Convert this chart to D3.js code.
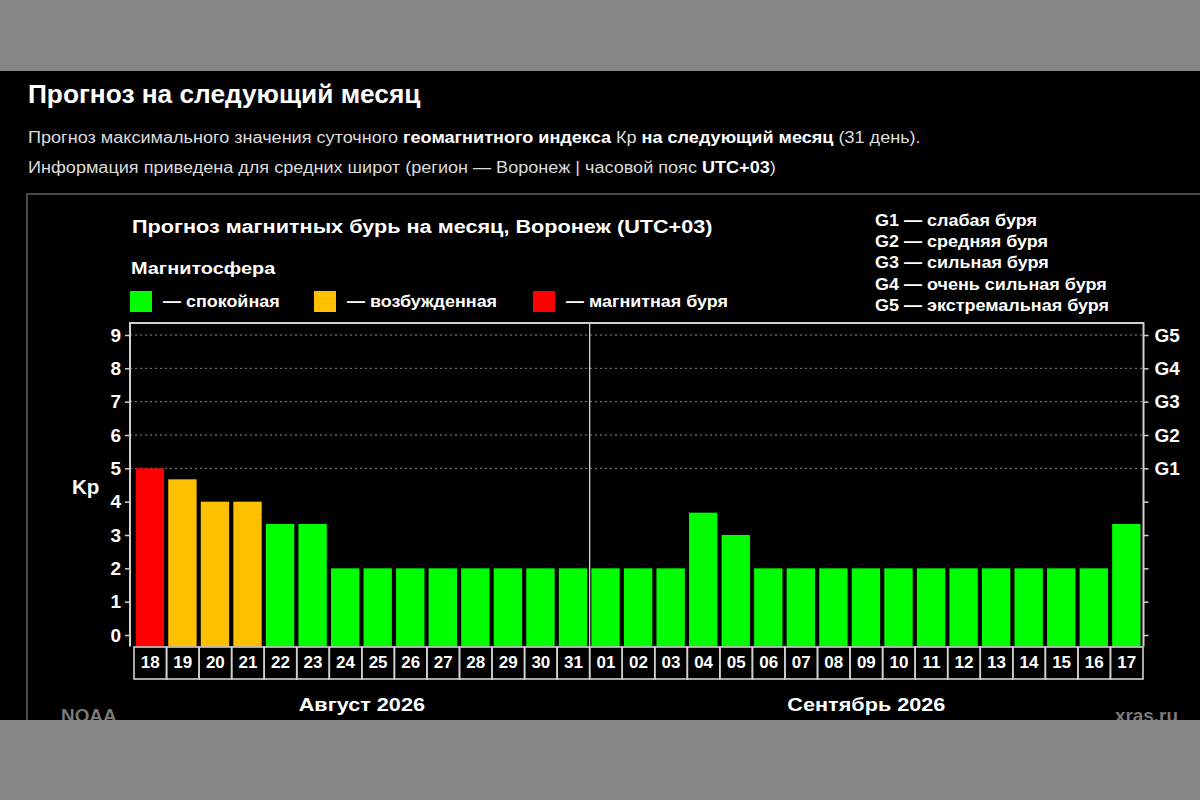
<!DOCTYPE html>
<html><head><meta charset="utf-8">
<script src="https://cdn.jsdelivr.net/npm/d3@7"></script>
<style>
html,body{margin:0;padding:0;background:#858585;}
svg{display:block;font-family:"Liberation Sans",Arial,sans-serif;}
</style></head>
<body>
<svg id="c" width="1200" height="800"></svg>
<script>
const augDays = ["18","19","20","21","22","23","24","25","26","27","28","29","30","31"];
const sepDays = ["01","02","03","04","05","06","07","08","09","10","11","12","13","14","15","16","17"];
const augKp = [5, 4.67, 4, 4, 3.33, 3.33, 2, 2, 2, 2, 2, 2, 2, 2];
const sepKp = [2, 2, 2, 3.67, 3, 2, 2, 2, 2, 2, 2, 2, 2, 2, 2, 2, 3.33];
const kpTicks = [0,1,2,3,4,5,6,7,8,9];
const gLabels = ["G1","G2","G3","G4","G5"];
const gKp = [5,6,7,8,9];
const gLegend = ["G1 — слабая буря","G2 — средняя буря","G3 — сильная буря","G4 — очень сильная буря","G5 — экстремальная буря"];
const stateNames = ["— спокойная","— возбужденная","— магнитная буря"];
const stateColors = ["#00ff00","#ffc000","#ff0000"];
const monthLabels = ["Август 2026","Сентябрь 2026"];

const days = augDays.map((d,i)=>({key:"a"+d, label:d, kp:augKp[i]}))
  .concat(sepDays.map((d,i)=>({key:"s"+d, label:d, kp:sepKp[i]})));
function stateOf(kp){ return kp>=5 ? 2 : (kp>=4 ? 1 : 0); }

const svg = d3.select("#c");
function txt(x, y, s, size, bold, sx, anchor, fill){
  return svg.append("text").attr("transform",`translate(${x},${y}) scale(${sx},1)`)
    .attr("font-size",size).attr("font-weight",bold?"bold":"normal")
    .attr("text-anchor",anchor||"start").attr("fill",fill||"#fff").text(s);
}
// background
svg.append("rect").attr("x",0).attr("y",0).attr("width",1200).attr("height",800).attr("fill","#858585");
svg.append("rect").attr("x",0).attr("y",71).attr("width",1200).attr("height",649).attr("fill","#000");

// header texts
txt(28,103,"Прогноз на следующий месяц",25,true,1.05);
const l1 = txt(28,143,"",16,false,1.13,"start","#dcdcdc");
[["Прогноз максимального значения суточного ",false],["геомагнитного индекса",true],[" Кр ",false],["на следующий месяц",true],[" (31 день).",false]]
  .forEach(([t,b])=>l1.append("tspan").text(t).attr("font-weight",b?"bold":"normal").attr("fill",b?"#fff":"#dcdcdc"));
const l2 = txt(28,173,"",16,false,1.13,"start","#dcdcdc");
[["Информация приведена для средних широт (регион — Воронеж | часовой пояс ",false],["UTC+03",true],[")",false]]
  .forEach(([t,b])=>l2.append("tspan").text(t).attr("font-weight",b?"bold":"normal").attr("fill",b?"#fff":"#dcdcdc"));

// inner box
svg.append("rect").attr("x",27).attr("y",194).attr("width",1190).attr("height",600)
  .attr("fill","none").attr("stroke","#4a4a4a").attr("stroke-width",2);

// chart title & legend
txt(132,233,"Прогноз магнитных бурь на месяц, Воронеж (UTC+03)",19,true,1.14);
txt(131,274,"Магнитосфера",17,true,1.17);
const legX = [130, 314, 533];
stateNames.forEach((n,i)=>{
  svg.append("rect").attr("x",legX[i]).attr("y",291).attr("width",22).attr("height",21).attr("fill",stateColors[i]);
  txt(legX[i]+33,307,n,17,true,1.055);
});
gLegend.forEach((t,i)=>{ txt(875,226+i*21.2,t,16,true,1.125); });

// scales
const plotL = 130, plotR = 1143.5, plotT = 323, plotB = 646.5;
const x = d3.scaleBand().domain(days.map(d=>d.key)).range([134,1143]).padding(0);
const y = d3.scaleLinear().domain([0,9]).range([635,335]);

// grid
const g = svg.append("g");
g.selectAll("line.grid").data(gKp).join("line").attr("class","grid")
  .attr("x1",plotL).attr("x2",plotR).attr("y1",d=>y(d)).attr("y2",d=>y(d))
  .attr("stroke","#8a8a8a").attr("stroke-width",1).attr("stroke-dasharray","2,3");

// bars
g.selectAll("rect.bar").data(days).join("rect").attr("class","bar")
  .attr("x",d=>x(d.key)+1.7).attr("width",x.bandwidth()-4.2)
  .attr("y",d=>y(d.kp)).attr("height",d=>plotB - y(d.kp))
  .attr("fill",d=>stateColors[stateOf(d.kp)]);

// month separator
svg.append("line").attr("x1",x("s01")).attr("x2",x("s01")).attr("y1",plotT).attr("y2",plotB)
  .attr("stroke","#e0e0e0").attr("stroke-width",1.2);

// frame
svg.append("path").attr("d",`M${plotL},${plotB}V${plotT}H${plotR}V${plotB}`)
  .attr("fill","none").attr("stroke","#d0d0d0").attr("stroke-width",2);

// axes
const yl = d3.axisLeft(y).tickValues(kpTicks).tickSize(5).tickPadding(4);
const ga = svg.append("g").attr("transform",`translate(${plotL},0)`).call(yl);
ga.select(".domain").remove();
ga.selectAll("line").attr("stroke","#d0d0d0").attr("stroke-width",1.5);
ga.selectAll("text").attr("fill","#fff").attr("font-size",19).attr("font-weight","bold").attr("font-family","Liberation Sans, Arial, sans-serif");

const yr = d3.axisRight(y).tickValues(kpTicks).tickSize(5).tickPadding(6)
  .tickFormat(v=>{ const i = gKp.indexOf(v); return i>=0 ? gLabels[i] : ""; });
const gr = svg.append("g").attr("transform",`translate(${plotR},0)`).call(yr);
gr.select(".domain").remove();
gr.selectAll("line").attr("stroke","#d0d0d0").attr("stroke-width",1.5);
gr.selectAll("text").attr("fill","#fff").attr("font-size",19).attr("font-weight","bold").attr("font-family","Liberation Sans, Arial, sans-serif");

txt(72,494,"Kp",20,true,1.03);

// date boxes
const boxT = 647, boxB = 679;
const bx = svg.append("g");
bx.selectAll("rect").data(days).join("rect")
  .attr("x",d=>x(d.key)).attr("y",boxT).attr("width",x.bandwidth()).attr("height",boxB-boxT)
  .attr("fill","none").attr("stroke","#d0d0d0").attr("stroke-width",1.6);
bx.selectAll("text").data(days).join("text")
  .attr("x",d=>x(d.key)+x.bandwidth()/2).attr("y",668).attr("text-anchor","middle")
  .attr("fill","#fff").attr("font-size",17).attr("font-weight","bold").text(d=>d.label);

// month labels
const augC = (x("a18") + x("a31") + x.bandwidth())/2;
const sepC = (x("s01") + x("s17") + x.bandwidth())/2;
txt(augC,711,monthLabels[0],19,true,1.14,"middle");
txt(sepC,711,monthLabels[1],19,true,1.14,"middle");

// watermarks
txt(61,722,"NOAA",18,true,1.05,"start","#7a7a7a");
txt(1178,722,"xras.ru",18,true,1.05,"end","#7a7a7a");

// bottom gray band
svg.append("rect").attr("x",0).attr("y",720).attr("width",1200).attr("height",80).attr("fill","#858585");
</script>
</body></html>
